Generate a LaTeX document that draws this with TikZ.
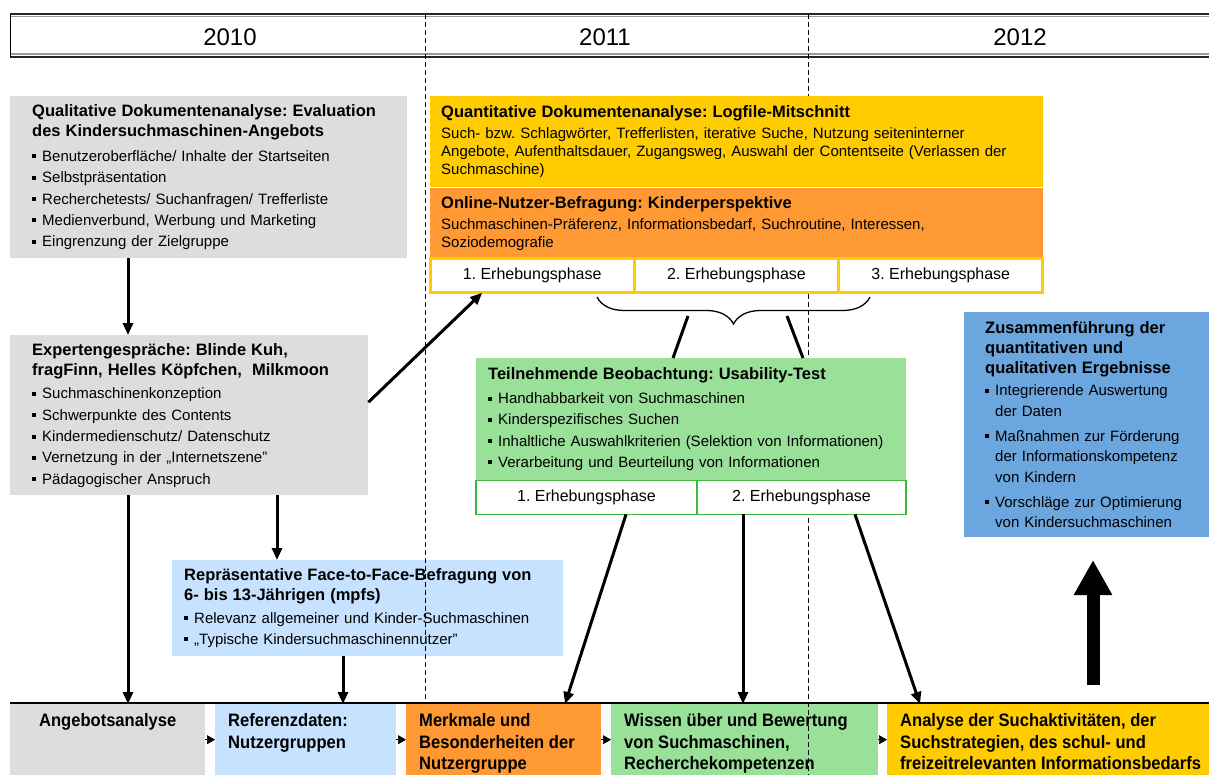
\documentclass[tikz,border=0pt]{standalone}
\usepackage{fontspec}
\setmainfont{Liberation Sans}
\newfontfamily\narrowfont[FakeStretch=0.92]{Liberation Sans}
\usetikzlibrary{arrows.meta,positioning,calc,decorations.pathreplacing}
\frenchspacing

\definecolor{boxgray}{HTML}{DDDDDD}
\definecolor{qyellow}{HTML}{FFCC00}
\definecolor{qorange}{HTML}{FF9933}
\definecolor{ugreen}{HTML}{99E099}
\definecolor{ugreenline}{HTML}{3CB93C}
\definecolor{zblue}{HTML}{6CA6DE}
\definecolor{lblue}{HTML}{C6E2FF}

\newcommand{\bodyfont}{\fontsize{15}{21.3}\selectfont}
\newcommand{\ttlfont}{\fontsize{16.5}{20}\selectfont\bfseries}
\newcommand{\phasefont}{\fontsize{16}{18}\selectfont}
\newcommand{\yearfont}{\fontsize{24}{28}\selectfont}
\newcommand{\bottomfont}{\narrowfont\bfseries\fontsize{18}{21.5}\selectfont}
\newcommand{\sqb}{\raisebox{3pt}{\rule{4pt}{4pt}}\hspace{6pt}}
\newcommand{\btext}[2]{\parbox[t][52pt][t]{#1}{#2}}

\begin{document}
\begin{tikzpicture}[x=1pt, y=-1pt,
  infobox/.style={rectangle, anchor=north west, align=left, font=\bodyfont, inner ysep=0pt},
  phasecell/.style={rectangle, fill=white, minimum height=34pt, inner sep=0pt, outer sep=0pt, font=\phasefont},
  bottombox/.style={rectangle, anchor=north west, inner xsep=13pt, inner ysep=9.5pt, font=\bottomfont},
  arr/.style={-{Triangle[length=12pt,width=10pt]}, line width=3pt},
  link/.style={line width=3pt},
  smallarr/.style={-{Triangle[length=8pt,width=9pt]}, line width=0.6pt},
  divider/.style={line width=0.8pt, dash pattern=on 5pt off 3pt},
  year/.style={font=\yearfont}
]
  \useasboundingbox (0,0) rectangle (1209,775);

  % time line
  \draw[line width=2.2pt, black!85] (10,14) -- (1209,14);
  \draw[line width=1.4pt, black!40] (10,16.8) -- (1209,16.8);
  \draw[line width=1.4pt, black!40] (10,54.2) -- (1209,54.2);
  \draw[line width=2.2pt, black!85] (10,57) -- (1209,57);
  \draw[line width=1pt] (10,14) -- (10,57);
  \node[year] (y2010) at (230,37) {2010};
  \node[year] (y2011) at (605,37) {2011};
  \node[year] (y2012) at (1020,37) {2012};

  \node[infobox, fill=lblue, inner xsep=12pt, text width=367pt, minimum height=96pt] (befr) at (172,560)
    {{\ttlfont Repräsentative Face-to-Face-Befragung von\\6- bis 13-Jährigen (mpfs)\par}\vspace{1pt}
     \sqb Relevanz allgemeiner und Kinder-Suchmaschinen\\
     \sqb „Typische Kindersuchmaschinennutzer"};
  \node[bottombox, fill=ugreen] (wiss) at (611,704)
    {\btext{241pt}{Wissen über und Bewertung\\von Suchmaschinen,\\Recherchekompetenzen}};

  \draw[divider] (425,14) -- (425,775);
  \draw[divider] (808,14) -- (808,775);

  \node[infobox, fill=boxgray, inner xsep=22pt, text width=353pt, minimum height=162pt] (qual) at (10,96)
    {{\ttlfont Qualitative Dokumentenanalyse: Evaluation\\des Kindersuchmaschinen-Angebots\par}\vspace{3.5pt}
     \sqb Benutzeroberfläche/ Inhalte der Startseiten\\
     \sqb Selbstpräsentation\\
     \sqb Recherchetests/ Suchanfragen/ Trefferliste\\
     \sqb Medienverbund, Werbung und Marketing\\
     \sqb Eingrenzung der Zielgruppe};

  \node[infobox, fill=boxgray, inner xsep=22pt, text width=314pt, minimum height=160pt] (expert) at (10,335)
    {{\ttlfont Expertengespräche: Blinde Kuh,\\fragFinn, Helles Köpfchen, \ Milkmoon\par}\vspace{2.5pt}
     \sqb Suchmaschinenkonzeption\\
     \sqb Schwerpunkte des Contents\\
     \sqb Kindermedienschutz/ Datenschutz\\
     \sqb Vernetzung in der „Internetszene"\\
     \sqb Pädagogischer Anspruch};

  \node[infobox, fill=qyellow, inner xsep=11pt, text width=591pt, minimum height=91pt] (quant) at (430,96)
    {{\ttlfont Quantitative Dokumentenanalyse: Logfile-Mitschnitt\par}\vspace{2.5pt}
     {\fontsize{15}{18}\selectfont Such- bzw. Schlagwörter, Trefferlisten, iterative Suche, Nutzung seiteninterner\\
     Angebote, Aufenthaltsdauer, Zugangsweg, Auswahl der Contentseite (Verlassen der\\
     Suchmaschine)\par}};
  \node[infobox, fill=qorange, inner xsep=11pt, text width=591pt, minimum height=71pt, below=0pt of quant] (online)
    {{\ttlfont Online-Nutzer-Befragung: Kinderperspektive\par}\vspace{3pt}
     {\fontsize{15}{18}\selectfont Suchmaschinen-Präferenz, Informationsbedarf, Suchroutine, Interessen,\\
     Soziodemografie\par}};
  \node[phasecell, draw=qyellow, line width=3pt, minimum width=204.3pt, anchor=north west] (qp1) at (online.south west) {1. Erhebungsphase};
  \node[phasecell, draw=qyellow, line width=3pt, minimum width=204.3pt, right=0pt of qp1] (qp2) {2. Erhebungsphase};
  \node[phasecell, draw=qyellow, line width=3pt, minimum width=204.3pt, right=0pt of qp2] (qp3) {3. Erhebungsphase};

  \node[infobox, fill=ugreen, inner xsep=12pt, text width=406pt, minimum height=122pt] (usab) at (476,358)
    {{\ttlfont Teilnehmende Beobachtung: Usability-Test\par}\vspace{2.5pt}
     \sqb Handhabbarkeit von Suchmaschinen\\
     \sqb Kinderspezifisches Suchen\\
     \sqb Inhaltliche Auswahlkriterien (Selektion von Informationen)\\
     \sqb Verarbeitung und Beurteilung von Informationen};
  \node[phasecell, draw=ugreenline, line width=1.5pt, minimum width=221pt, anchor=north west] (up1) at (usab.south west) {1. Erhebungsphase};
  \node[phasecell, draw=ugreenline, line width=1.5pt, minimum width=209pt, right=0pt of up1] (up2) {2. Erhebungsphase};

  \node[infobox, fill=zblue, inner xsep=21pt, text width=203pt, minimum height=225pt] (zus) at (964,312)
    {{\ttlfont Zusammenführung der\\quantitativen und\\qualitativen Ergebnisse\par}\vspace{2pt}
     {\fontsize{15}{20.5}\selectfont
     \sqb Integrierende Auswertung\\\hspace*{10pt}der Daten\\[4.5pt]
     \sqb Maßnahmen zur Förderung\\\hspace*{10pt}der Informationskompetenz\\\hspace*{10pt}von Kindern\\[4.5pt]
     \sqb Vorschläge zur Optimierung\\\hspace*{10pt}von Kindersuchmaschinen\par}};

  \node[bottombox, fill=boxgray] (ang) at (10,704) {\btext{169pt}{\centering Angebotsanalyse}};
  \node[bottombox, fill=lblue] (ref) at (215,704) {\btext{155pt}{Referenzdaten:\\Nutzergruppen}};
  \node[bottombox, fill=qorange] (merk) at (406,704) {\btext{169pt}{Merkmale und\\Besonderheiten der\\Nutzergruppe}};
  \node[bottombox, fill=qyellow] (anal) at (887,704)
    {\btext{309pt}{Analyse der Suchaktivitäten, der\\Suchstrategien, des schul- und\\freizeitrelevanten Informationsbedarfs}};
  \draw[line width=1.3pt] (10,703) -- (1209,703);

  \draw[decorate, decoration={brace, mirror, amplitude=27pt}, line width=1.3pt] (597,297) -- (870,297);
  \coordinate (brL) at (688,316);
  \coordinate (brR) at (787,316);
  \draw[link] (brL) -- ([xshift=197pt]usab.north west);
  \draw[link] (brR) -- ([xshift=327pt]usab.north west);

  \draw[arr] ([xshift=118pt]qual.south west) -- ([xshift=118pt]expert.north west);
  \draw[arr] ([yshift=13pt]expert.east) -- ([xshift=-50pt]qp1.south);
  \draw[arr] ([xshift=118pt]expert.south west) -- ([xshift=118pt]ang.north west);
  \draw[arr] ([xshift=267pt]expert.south west) -- ([xshift=105pt]befr.north west);
  \draw[arr] ([xshift=171pt]befr.south west) -- ([xshift=128pt]ref.north west);
  \draw[arr] ([xshift=150pt]up1.south west) -- ([xshift=159pt]merk.north west);
  \draw[arr] ([xshift=46pt]up2.south west) -- ([xshift=132pt]wiss.north west);
  \draw[arr] ([xshift=158pt]up2.south west) -- ([xshift=33pt]anal.north west);

  \coordinate (bigfoot) at (1093,685);
  \coordinate (bigtip) at (1093,560);
  \draw[-{Triangle[length=35pt,width=36pt]}, line width=13pt] (bigfoot) -- (bigtip);

  \draw[smallarr] (ang.east) -- (ref.west);
  \draw[smallarr] (ref.east) -- (merk.west);
  \draw[smallarr] (merk.east) -- (wiss.west);
  \draw[smallarr] (wiss.east) -- (anal.west);
\end{tikzpicture}
\end{document}
